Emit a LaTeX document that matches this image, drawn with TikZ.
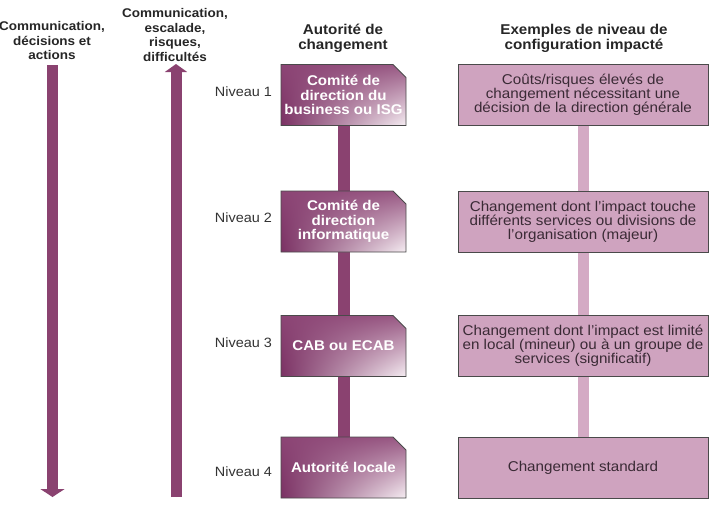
\documentclass[tikz,border=0pt]{standalone}
\usepackage{fontspec}
\setmainfont{Liberation Sans}[FakeStretch=1.07]
\usetikzlibrary{arrows.meta,shadings}
\definecolor{arrowc}{HTML}{8A4270}
\definecolor{bordc}{HTML}{4A4A4A}
\definecolor{rfill}{HTML}{CFA3BF}
\definecolor{rconn}{HTML}{D4AAC4}
\definecolor{rtext}{HTML}{3A2A35}
\definecolor{gUL}{HTML}{8C4575}
\definecolor{gUR}{HTML}{985883}
\definecolor{gLL}{HTML}{7A3163}
\definecolor{gLR}{HTML}{F6EEF3}
\pgfdeclarelayer{back}
\pgfdeclarelayer{background}
\pgfsetlayers{back,background,main}
\tikzset{
  lbox/.style={rectangle, minimum width=125pt, minimum height=61pt, inner sep=0pt, outer sep=0pt,
    text=white, align=center, font=\bfseries\fontsize{14.1}{14.5}\selectfont},
  lshape/.style={draw=bordc, line width=0.8pt,
    upper left=gUL, upper right=gUR, lower left=gLL, lower right=gLR},
  rbox/.style={rectangle, draw=bordc, line width=0.8pt, fill=rfill,
    minimum width=250pt, minimum height=61pt, inner sep=0pt,
    text=rtext, align=center, font=\fontsize{14.2}{14}\selectfont},
  lconn/.style={draw=arrowc, line width=12pt},
  rconnline/.style={draw=rconn, line width=11pt},
  bigarrow/.style={draw=arrowc, fill=arrowc, line width=11pt},
  head/.style={text=black!85, align=center, font=\bfseries\fontsize{14.2}{15.5}\selectfont},
  collab/.style={text=black!85, align=center, font=\bfseries\fontsize{12.6}{14.6}\selectfont},
  niv/.style={text=black!80, font=\fontsize{13.5}{15}\selectfont, inner sep=0pt}
}
\newcommand\chbox[1]{\shadedraw[lshape] (#1.south west) -- (#1.north west)
  -- ([xshift=-13pt]#1.north east) -- ([yshift=-13pt]#1.north east)
  -- (#1.south east) -- cycle;}
\begin{document}
\begin{tikzpicture}[x=1pt,y=-1pt]
\useasboundingbox (0,0) rectangle (721,507);

% column labels
\node[collab] (c1) at (52,40.5) {Communication,\\décisions et\\actions};
\node[collab] (c2) at (175,35) {Communication,\\escalade,\\risques,\\difficultés};
\node[head] (h1) at (343,38.5) {Autorité de\\changement};
\node[head] (h2) at (584,38.5) {Exemples de niveau de\\configuration impacté};

% arrows
\coordinate (a1s) at (52.5,65);
\coordinate (a1e) at (52.5,497);
\coordinate (a2s) at (176,497);
\coordinate (a2e) at (176,64);
\draw[bigarrow, -{Triangle[width=24pt,length=8pt]}] (a1s) -- (a1e);
\draw[bigarrow, -{Triangle[width=22pt,length=8pt]}] (a2s) -- (a2e);

% left boxes
\node[lbox] (l1) at (343.5,95) {Comité de\\direction du\\business ou ISG};
\node[lbox] (l2) at (343.5,221.5) {Comité de\\direction\\informatique};
\node[lbox] (l3) at (343.5,346) {CAB ou ECAB};
\node[lbox] (l4) at (343.5,467.5) {Autorité locale};

% right boxes
\node[rbox] (r1) at (583,95) {Coûts/risques élevés de\\changement nécessitant une\\décision de la direction générale};
\node[rbox] (r2) at (583,221.5) {Changement dont l’impact touche\\différents services ou divisions de\\l’organisation (majeur)};
\node[rbox] (r3) at (583,346) {Changement dont l’impact est limité\\en local (mineur) ou à un groupe de\\services (significatif)};
\node[rbox] (r4) at (583,467.5) {Changement standard};

% niveau labels
\node[niv] (n1) at (243.5,92) {Niveau 1};
\node[niv] (n2) at (243.5,218) {Niveau 2};
\node[niv] (n3) at (243.5,343) {Niveau 3};
\node[niv] (n4) at (243.5,472) {Niveau 4};

% chamfered shaded shapes behind the left texts
\begin{pgfonlayer}{background}
\chbox{l1}
\chbox{l2}
\chbox{l3}
\chbox{l4}
\end{pgfonlayer}

% connectors
\begin{pgfonlayer}{back}
\draw[lconn] (l1.south) -- (l2.north);
\draw[lconn] (l2.south) -- (l3.north);
\draw[lconn] (l3.south) -- (l4.north);
\draw[rconnline] (r1.south) -- (r2.north);
\draw[rconnline] (r2.south) -- (r3.north);
\draw[rconnline] (r3.south) -- (r4.north);
\end{pgfonlayer}
\end{tikzpicture}
\end{document}
